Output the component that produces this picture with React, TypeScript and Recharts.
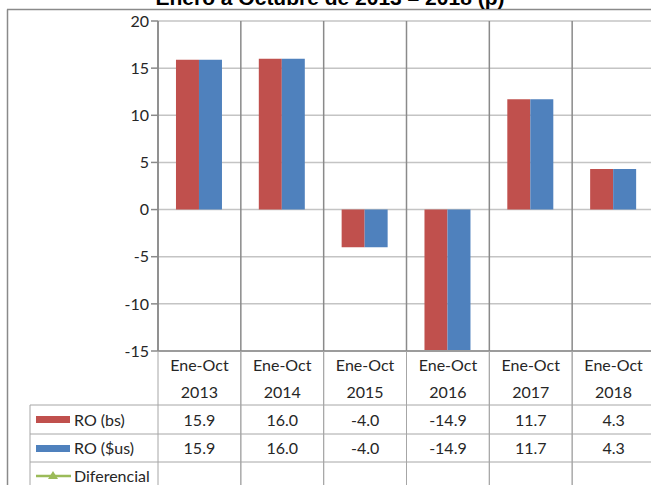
import React from 'react';
import { ComposedChart, Bar, Line, XAxis, YAxis, CartesianGrid, Customized } from 'recharts';

const titleText = 'Enero a Octubre de 2013 – 2018 (p)';
const periodLabel = 'Ene-Oct';
const years = ['2013', '2014', '2015', '2016', '2017', '2018'];
const roBs = [15.9, 16.0, -4.0, -14.9, 11.7, 4.3];
const roUs = [15.9, 16.0, -4.0, -14.9, 11.7, 4.3];
const diferencial: (number | null)[] = [null, null, null, null, null, null];
const seriesNames = ['RO (bs)', 'RO ($us)', 'Diferencial'];
const yTicks = [-15, -10, -5, 0, 5, 10, 15, 20];

const RED = '#C0504D';
const BLUE = '#4F81BD';
const GREEN = '#9BBB59';
const DARK_LINE = '#8a8a8a';
const LIGHT_LINE = '#c4c4c4';
const TABLE_LINE = '#a6a6a6';
const TEXT = '#262626';
const FONT = 'Lato, "Open Sans", sans-serif';
const FS = 16;

const data = years.map((y, i) => ({
  cat: y,
  bs: roBs[i],
  us: roUs[i],
  dif: diferencial[i],
}));

const W = 660;
const H = 485;
const TABLE_BOTTOM = 485;

const fmt = (v: number | null) => (v == null ? '' : v.toFixed(1));

function CatTick(props: any) {
  const { x, y, payload } = props;
  const idx = payload?.index ?? years.indexOf(payload?.value);
  const half = payload?.offset || 41.4;
  const y0 = y;
  const l = x - half;
  const r = x + half;
  return (
    <g>
      <line x1={l} x2={l} y1={y0} y2={TABLE_BOTTOM} stroke={TABLE_LINE} strokeWidth={1} />
      <line x1={r} x2={r} y1={y0} y2={TABLE_BOTTOM} stroke={TABLE_LINE} strokeWidth={1} />
      <line x1={l} x2={r} y1={y0 + 54} y2={y0 + 54} stroke={TABLE_LINE} strokeWidth={1} />
      <line x1={l} x2={r} y1={y0 + 83} y2={y0 + 83} stroke={TABLE_LINE} strokeWidth={1} />
      <line x1={l} x2={r} y1={y0 + 111} y2={y0 + 111} stroke={TABLE_LINE} strokeWidth={1} />
      <text x={x} y={y0 + 20} textAnchor="middle" fontFamily={FONT} fontSize={FS} fill={TEXT}>{periodLabel}</text>
      <text x={x} y={y0 + 47} textAnchor="middle" fontFamily={FONT} fontSize={FS} fill={TEXT}>{payload?.value}</text>
      <text x={x} y={y0 + 75} textAnchor="middle" fontFamily={FONT} fontSize={FS} fill={TEXT}>{fmt(roBs[idx])}</text>
      <text x={x} y={y0 + 103} textAnchor="middle" fontFamily={FONT} fontSize={FS} fill={TEXT}>{fmt(roUs[idx])}</text>
      <text x={x} y={y0 + 131} textAnchor="middle" fontFamily={FONT} fontSize={FS} fill={TEXT}>{fmt(diferencial[idx])}</text>
    </g>
  );
}

function Decor(props: any) {
  const off = props?.offset || { left: 158, top: 21, height: 330 };
  const plotLeft = off.left;
  const tableTop = off.top + off.height;
  const r1 = tableTop + 54;
  const r2 = tableTop + 83;
  const r3 = tableTop + 111;
  const tl = 30;
  return (
    <g>
      {/* outer frame */}
      <line x1={7.5} x2={7.5} y1={9.5} y2={H} stroke={DARK_LINE} strokeWidth={1.5} />
      <line x1={7} x2={W} y1={9.5} y2={9.5} stroke={DARK_LINE} strokeWidth={1.5} />
      <text x={330} y={5} textAnchor="middle" fontFamily='"Liberation Sans", Arial, sans-serif' fontWeight="bold" fontSize={21} fill="#000">{titleText}</text>
      {/* legend column of table */}
      <line x1={tl} x2={plotLeft} y1={r1} y2={r1} stroke={TABLE_LINE} />
      <line x1={tl} x2={plotLeft} y1={r2} y2={r2} stroke={TABLE_LINE} />
      <line x1={tl} x2={plotLeft} y1={r3} y2={r3} stroke={TABLE_LINE} />
      <line x1={tl} x2={tl} y1={r1} y2={H} stroke={TABLE_LINE} />
      <rect x={36} y={r1 + 11} width={34} height={7} fill={RED} />
      <text x={74} y={r1 + 21} fontFamily={FONT} fontSize={FS} fill={TEXT}>{seriesNames[0]}</text>
      <rect x={36} y={r2 + 11} width={34} height={7} fill={BLUE} />
      <text x={74} y={r2 + 20} fontFamily={FONT} fontSize={FS} fill={TEXT}>{seriesNames[1]}</text>
      <line x1={36} x2={71} y1={r3 + 14} y2={r3 + 14} stroke={GREEN} strokeWidth={2.5} />
      <polygon points={`53,${r3 + 9} 48,${r3 + 17} 58,${r3 + 17}`} fill={GREEN} />
      <text x={74} y={r3 + 20} fontFamily={FONT} fontSize={FS} fill={TEXT}>{seriesNames[2]}</text>
    </g>
  );
}

export default function App() {
  return (
    <div style={{ position: 'absolute', left: 0, top: 0, width: 651, height: 485, overflow: 'hidden', background: '#fff' }}>
      <ComposedChart
        width={W}
        height={H}
        data={data}
        margin={{ top: 21, right: 5, bottom: 0, left: 100 }}
        barCategoryGap="21.7%"
        barGap={0}
      >
        <CartesianGrid horizontal={true} vertical={false} stroke={LIGHT_LINE} strokeWidth={1.5} />
        <CartesianGrid
          horizontal={false}
          vertical={true}
          stroke={DARK_LINE}
          strokeWidth={1.5}
          verticalCoordinatesGenerator={({ offset }: any) =>
            Array.from({ length: years.length + 1 }, (_, i) => offset.left + (i * offset.width) / years.length)
          }
        />
        <XAxis
          dataKey="cat"
          height={134}
          tickSize={0}
          tickMargin={0}
          tickLine={false}
          axisLine={{ stroke: DARK_LINE, strokeWidth: 1.5 }}
          interval={0}
          tick={<CatTick />}
        />
        <YAxis
          width={58}
          domain={[-15, 20]}
          ticks={yTicks}
          interval={0}
          tickSize={7}
          tickMargin={2}
          axisLine={{ stroke: DARK_LINE, strokeWidth: 1.5 }}
          tickLine={{ stroke: DARK_LINE, strokeWidth: 1.5 }}
          tick={{ fontFamily: FONT, fontSize: FS, fill: TEXT }}
          allowDataOverflow
        />
        <Bar dataKey="bs" name={seriesNames[0]} fill={RED} isAnimationActive={false} />
        <Bar dataKey="us" name={seriesNames[1]} fill={BLUE} isAnimationActive={false} />
        <Line dataKey="dif" name={seriesNames[2]} stroke={GREEN} strokeWidth={2.5} isAnimationActive={false} connectNulls={false} />
        <Customized component={Decor} />
      </ComposedChart>
    </div>
  );
}
